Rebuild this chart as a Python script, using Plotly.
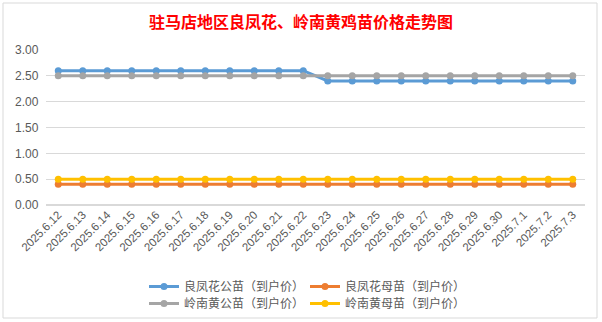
import plotly.graph_objects as go

dates = ["2025.6.12","2025.6.13","2025.6.14","2025.6.15","2025.6.16","2025.6.17","2025.6.18",
         "2025.6.19","2025.6.20","2025.6.21","2025.6.22","2025.6.23","2025.6.24","2025.6.25",
         "2025.6.26","2025.6.27","2025.6.28","2025.6.29","2025.6.30","2025.7.1","2025.7.2","2025.7.3"]
lfh_male = [2.6]*11 + [2.4]*11
lfh_female = [0.4]*22
lnh_male = [2.5]*22
lnh_female = [0.5]*22

names = ["良凤花公苗（到户价）", "良凤花母苗（到户价）", "岭南黄公苗（到户价）", "岭南黄母苗（到户价）"]
series = [lfh_male, lfh_female, lnh_male, lnh_female]
colors = ["#5B9BD5", "#ED7D31", "#A5A5A5", "#FFC000"]
legend_ids = ["legend", "legend", "legend2", "legend2"]

fig = go.Figure()
for n, s, c, lg in zip(names, series, colors, legend_ids):
    fig.add_trace(go.Scatter(x=dates, y=s, name=n, mode="lines+markers",
                             line=dict(color=c, width=3),
                             marker=dict(color=c, size=7), legend=lg))

L, R, T, B = 46, 17, 50, 117
W, H = 602, 322
pw, ph = W - L - R, H - T - B

def px_x(p): return (p - L) / pw
def px_y(p): return (H - B - p) / ph

leg_common = dict(orientation="h", xanchor="left", yanchor="top",
                  entrywidth=116, entrywidthmode="pixels", tracegroupgap=0,
                  font=dict(size=12, color="#595959", family="Noto Sans CJK SC"),
                  itemwidth=30, bgcolor="rgba(0,0,0,0)")

fig.update_layout(
    width=W, height=H,
    margin=dict(l=L, r=R, t=T, b=B, autoexpand=False),
    paper_bgcolor="white", plot_bgcolor="white",
    font=dict(family="Noto Sans CJK SC, Liberation Sans, sans-serif", size=12, color="#595959"),
    title=dict(text="<b>驻马店地区良凤花、岭南黄鸡苗价格走势图</b>",
               x=0.5, xanchor="center", y=1 - 22/H, yanchor="middle",
               font=dict(size=16, color="#FF0000", family="Noto Sans CJK SC")),
    xaxis=dict(type="category", tickangle=-45, showgrid=False, showline=False,
               automargin=False,
               tickfont=dict(size=11.5, color="#595959", family="Liberation Sans"),
               range=[-0.5, 21.5], ticks=""),
    yaxis=dict(range=[0, 3], dtick=0.5, tickformat=".2f", showgrid=True,
               automargin=False,
               gridcolor="#D9D9D9", gridwidth=1, zeroline=True, zerolinecolor="#D9D9D9",
               tickfont=dict(size=12, color="#595959", family="Liberation Sans"),
               ticksuffix="  "),
    showlegend=True,
    legend=dict(x=px_x(144), y=px_y(272), **leg_common),
    legend2=dict(x=px_x(144), y=px_y(289), **leg_common),
    shapes=[dict(type="rect", xref="paper", yref="paper",
                 x0=px_x(3), x1=px_x(597), y0=px_y(318), y1=px_y(3),
                 line=dict(color="#D9D9D9", width=1), layer="below")],
)

fig.write_html("out.html")
